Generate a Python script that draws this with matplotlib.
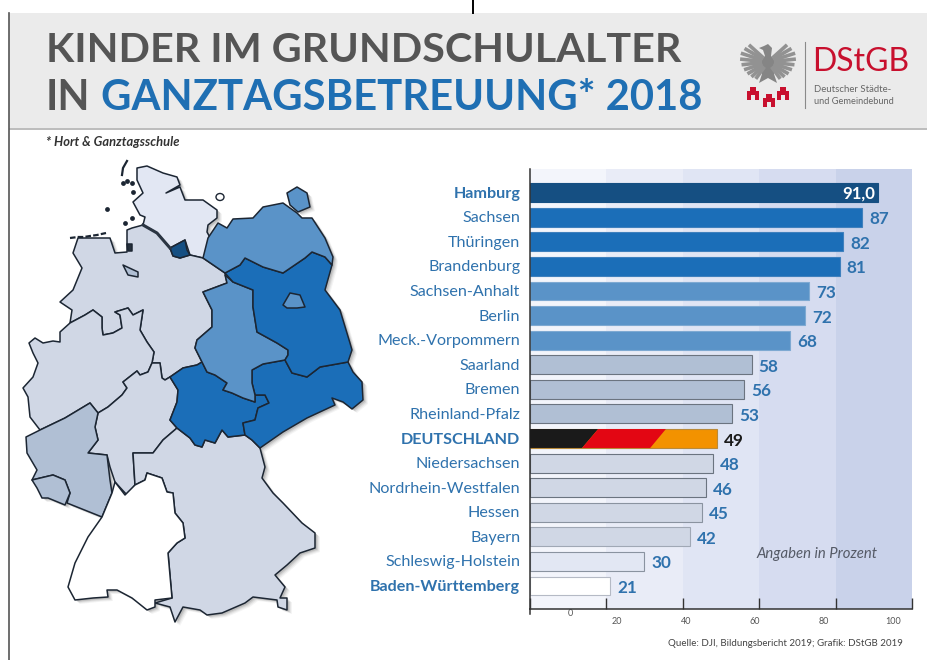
"""
Kinder im Grundschulalter in Ganztagsbetreuung 2018 - bars plus state map
"""

import numpy as np
import matplotlib
matplotlib.use("Agg")
import matplotlib.pyplot as plt
from matplotlib.patches import Polygon, Rectangle, Ellipse

W, H = 927, 660

states = ["Hamburg", "Sachsen", "Thüringen", "Brandenburg", "Sachsen-Anhalt", "Berlin",
          "Meck.-Vorpommern", "Saarland", "Bremen", "Rheinland-Pfalz", "DEUTSCHLAND",
          "Niedersachsen", "Nordrhein-Westfalen", "Hessen", "Bayern", "Schleswig-Holstein",
          "Baden-Württemberg"]
values = [91, 87, 82, 81, 73, 72, 68, 58, 56, 53, 49, 48, 46, 45, 42, 30, 21]
bold_states = ["Hamburg", "DEUTSCHLAND", "Baden-Württemberg"]
tick_values = [0, 20, 40, 60, 80, 100]
tick_labels = ["0", "20", "40", "60", "80", "100"]
tick_label_x = [570, 617, 686, 755, 824, 893]
tick_label_y = [614, 621, 621, 621, 621, 621]

DARK = "#154f82"
STRONG = "#1b6eb8"
MID = "#5a93c8"
SOFT = "#b0bfd4"
PALE = "#d0d7e5"
FAINT = "#e2e7f3"
bar_colors = [DARK, STRONG, STRONG, STRONG, MID, MID, MID, SOFT, SOFT, SOFT, "#f39200",
              PALE, PALE, PALE, PALE, FAINT, "white"]
edge_colors = [DARK, "#3f80bd", "#3f80bd", "#3f80bd", "#7ea9d2", "#7ea9d2", "#7ea9d2", "#6b7480", "#6b7480", "#6b7480",
               "#b98a3a", "#6b7480", "#6b7480", "#8a93a0", "#a0a8b5", "#8a93a0", "#b5bac5"]
band_colors = ["#f3f5fb", "#e9ecf7", "#e0e5f4", "#d6dcf0", "#c9d2ea"]
TEXT_BLUE = "#2f72ad"

# map outlines, traced in picture pixels
schleswig = [(137,168),(147,166),(163,173),(177,177),(180,185),(166,193),(180,187),(185,200),(203,200),(217,210),
             (217,218),(208,225),(207,232),(213,243),(203,258),(190,255),(185,240),(170,248),(157,233),(143,225),
             (145,217),(140,215),(133,202),(143,193),(137,180)]
hamburg = [(170,248),(185,240),(187,250),(190,255),(180,258),(173,256)]
meck = [(203,258),(208,238),(218,223),(227,228),(233,219),(253,218),(263,207),(283,203),(297,213),(302,218),(312,218),
        (325,238),(333,257),(332,265),(325,257),(312,252),(305,258),(283,273),(263,267),(245,258),(240,265),(225,273)]
ruegen = [(287,193),(297,187),(307,193),(310,207),(298,212),(290,205)]
brandenburg = [(225,273),(240,265),(245,258),(263,267),(283,273),(305,258),(312,252),(325,257),(332,265),(325,290),
               (340,310),(350,343),(352,350),(348,362),(320,367),(307,377),(292,373),(285,360),(288,355),(288,350),
               (277,343),(257,332),(253,307),(253,290),(233,282)]
berlin = [(283,305),(290,293),(300,295),(305,307),(297,308),(287,308)]
anhalt = [(225,275),(233,282),(253,290),(253,307),(257,332),(277,343),(288,350),(288,355),(285,360),(263,364),(252,370),
          (252,383),(255,395),(255,402),(243,398),(232,393),(223,390),(227,383),(215,375),(207,372),(202,362),(195,348),
          (197,340),(212,327),(212,310),(203,292),(227,283)]
sachsen = [(252,370),(263,364),(285,360),(292,373),(307,377),(320,367),(348,362),(353,372),(362,382),(363,400),(352,409),
           (343,402),(332,398),(335,405),(307,418),(283,432),(260,448),(252,440),(245,435),(243,423),(255,420),(258,408),
           (269,403),(265,395),(255,395),(252,383)]
thueringen = [(170,377),(183,368),(197,365),(202,362),(207,372),(215,375),(227,383),(223,390),(232,393),(243,398),(255,402),
              (255,395),(265,395),(269,403),(258,408),(255,420),(243,423),(245,435),(228,437),(222,430),(215,443),(205,440),
              (202,447),(195,445),(190,438),(177,428),(170,420),(177,402),(178,390)]
niedersachsen = [(78,238),(110,238),(115,253),(127,252),(127,230),(132,228),(143,225),(157,233),(170,248),(173,256),(180,258),
                 (190,255),(203,258),(225,273),(227,283),(203,292),(212,310),(212,327),(197,340),(195,348),(202,362),(197,365),
                 (183,368),(170,377),(165,380),(162,378),(160,363),(152,363),(154,352),(147,342),(140,330),(143,310),(133,315),
                 (128,308),(115,312),(120,315),(122,328),(113,333),(103,335),(102,328),(102,317),(93,310),(85,315),(70,323),
                 (72,310),(60,302),(73,290),(82,268),(73,253)]
nrw = [(29,343),(35,338),(43,343),(53,341),(60,342),(60,332),(70,323),(85,315),(93,310),(102,317),(102,328),(103,335),
       (113,333),(122,328),(120,315),(115,312),(128,308),(133,315),(143,310),(140,330),(147,342),(154,352),(152,363),
       (148,372),(140,375),(137,371),(123,382),(127,388),(122,395),(108,407),(98,413),(90,403),(65,418),(40,430),
       (30,417),(28,397),(23,388),(33,377),(38,363),(33,353)]
hessen = [(152,363),(160,363),(162,378),(165,380),(170,377),(178,390),(177,402),(170,420),(177,428),(163,440),(153,453),
          (133,453),(135,485),(127,495),(115,482),(110,467),(107,455),(88,453),(98,440),(95,427),(98,413),(108,407),
          (122,395),(127,388),(123,382),(137,371),(140,375),(148,372)]
rheinland = [(40,430),(65,418),(90,403),(98,413),(95,427),(98,440),(88,453),(107,455),(110,480),(112,493),(102,517),
             (67,503),(70,493),(65,480),(53,475),(32,480),(37,470),(27,453),(26,437)]
saarland = [(32,480),(53,475),(65,480),(70,493),(65,505),(48,498),(42,498),(37,488)]
baden = [(102,517),(112,493),(115,482),(125,495),(135,485),(145,480),(147,473),(162,478),(167,492),(173,493),(175,513),
         (183,523),(185,538),(177,543),(168,553),(172,598),(155,600),(155,607),(147,610),(132,598),(117,590),(107,590),
         (108,597),(93,598),(75,600),(68,587),(75,563),(88,537)]
bayern = [(133,453),(153,453),(163,440),(177,428),(190,438),(195,445),(202,447),(205,440),(215,443),(222,430),(228,437),
          (245,435),(252,440),(260,448),(265,467),(262,478),(273,493),(283,503),(302,523),(315,533),(315,548),(300,553),
          (287,565),(275,575),(285,587),(280,598),(287,598),(287,610),(278,607),(277,600),(253,597),(245,603),(222,613),
          (207,615),(200,610),(183,607),(175,622),(170,607),(155,603),(172,598),(168,553),(177,543),(185,538),(183,523),
          (175,513),(173,493),(167,492),(162,478),(147,473),(145,480),(135,485)]
bremen = [(123,265),(138,272),(138,277),(128,275)]
bremerhaven = [(127,244),(132,244),(132,251),(128,251)]
map_shapes = [(schleswig, FAINT), (niedersachsen, PALE), (nrw, PALE), (hessen, PALE), (rheinland, SOFT),
              (saarland, SOFT), (bayern, PALE), (baden, "white"), (thueringen, STRONG), (sachsen, STRONG),
              (anhalt, MID), (brandenburg, STRONG), (berlin, MID), (meck, MID), (ruegen, MID),
              (hamburg, DARK), (bremen, SOFT), (bremerhaven, "#26303c")]
frisian_east = [(70,238),(78,237),(84,237),(90,236),(97,235),(106,233)]
frisian_north = [(123,183),(127,181),(132,183),(133,192),(107,209),(125,223),(132,218)]
sylt = [(127,161),(123,168),(122,175)]
elbe = [(143,225),(157,233),(170,248)]
towers_x = [753.5, 769, 783]
towers_base = [100, 107, 100]
wing_angles = [-42, -30, -18, -6, 6, 18, 30, 42, 54]
eagle_body = [(768,44),(772,48),(771,56),(776,62),(774,74),(777,83),(768,78),(759,83),(762,74),(760,62),(765,56),(763,50),(759,48),(764,46)]

fig = plt.figure(figsize=(W / 100, H / 100), dpi=100, facecolor="white")
plt.rcParams["font.family"] = ["Lato", "DejaVu Sans"]

# overlay in picture pixels for the header, map and loose texts
bg = fig.add_axes([0, 0, 1, 1])
bg.set_xlim(0, W)
bg.set_ylim(H, 0)
bg.axis("off")

bg.add_patch(Rectangle((9, 13), W - 9, 115, color="#ebebeb", lw=0))
bg.add_patch(Rectangle((9, 128), W - 9, 2, color="#bdbdbd", lw=0))
bg.plot([9.5, 9.5], [13, 660], color="#555555", lw=1.2)
bg.plot([473, 473], [0, 13], color="black", lw=1.4)

bg.text(46, 50, "KINDER IM GRUNDSCHULALTER", fontsize=29.7, fontweight="bold", color="#555555", va="center")
bg.text(46, 98, "IN", fontsize=30, fontweight="bold", color="#555555", va="center")
bg.text(101, 98, "GANZTAGSBETREUUNG* 2018", fontsize=30.1, fontweight="bold", color="#1f6fb3", va="center")
bg.text(46, 142, "* Hort & Ganztagsschule", fontsize=9.3, fontweight="bold", style="italic", color="#333333", va="center")

# logo
for ang in wing_angles:
    for side in (-1, 1):
        dx, dy = np.cos(np.radians(ang)), np.sin(np.radians(ang))
        reach = 29 - abs(ang + 14) * 0.12
        bg.plot([768 + side * 6 * dx, 768 + side * reach * dx], [62 + 6 * dy, 62 + reach * dy],
                color="#929292", lw=2.6, solid_capstyle="butt")
bg.add_patch(Polygon(eagle_body, color="#858585", lw=0))
for tx, base in zip(towers_x, towers_base):
    bg.add_patch(Polygon([(tx - 6, base), (tx - 6, base - 9), (tx - 3, base - 9), (tx - 3, base - 13), (tx + 3, base - 13),
                          (tx + 3, base - 9), (tx + 6, base - 9), (tx + 6, base), (tx + 2, base), (tx + 2, base - 5),
                          (tx - 2, base - 5), (tx - 2, base)], color="#c8102e", lw=0))
bg.plot([805, 805], [42, 108], color="#8a8a8a", lw=0.8)
bg.text(812, 62, "DStGB", fontsize=23, color="#c8102e", va="center")
bg.text(814, 90, "Deutscher Städte-", fontsize=6.9, color="#666666", va="center")
bg.text(814, 101, "und Gemeindebund", fontsize=6.7, color="#666666", va="center")

# soft drop shadow, then the states
for off, alpha in ((5, 0.05), (4, 0.07), (3, 0.1), (2, 0.14)):
    for pts, _ in map_shapes:
        bg.add_patch(Polygon([(x + off, y + off * 0.8) for x, y in pts], color="#333333", alpha=alpha, lw=0))
for pts, col in map_shapes:
    bg.add_patch(Polygon(pts, facecolor=col, edgecolor="#1c2633", lw=1.1, joinstyle="round"))
bg.plot(*zip(*frisian_east), color="#1c2633", lw=1.6, linestyle=(0, (2.5, 1)))
bg.plot(*zip(*sylt), color="#1c2633", lw=1.6)
bg.plot(*zip(*elbe), color="#2b3542", lw=2.2)
bg.scatter(*zip(*frisian_north), s=12, color="#1c2633", lw=0)
bg.add_patch(Ellipse((220, 197), 8, 7, facecolor="white", edgecolor="#1c2633", lw=1))

# bar chart
x0, x100 = 529.7, 912.2
top_px, bottom_px = 169, 609
first_px, pitch = 192.7, 24.58
bg.plot([x0, x0], [bottom_px, bottom_px + 5], color="#333333", lw=1.1)

ax = fig.add_axes([x0 / W, 1 - bottom_px / H, (x100 - x0) / W, (bottom_px - top_px) / H])
ax.patch.set_alpha(0)
ax.set_xlim(0, 100)
ax.set_ylim((bottom_px - first_px) / pitch, (top_px - first_px) / pitch)

for left, col in zip(tick_values[:-1], band_colors):
    ax.axvspan(left, left + 20, color=col, lw=0, zorder=0)

bar_h = 0.77
positions = list(range(len(states)))
ax.barh(positions, values, height=bar_h, color=bar_colors, edgecolor=edge_colors, linewidth=0.8, zorder=2)

# flag colours on the national bar, with slanted joints
k = states.index("DEUTSCHLAND")
de_top, de_bot = k - bar_h / 2, k + bar_h / 2
ax.add_patch(Polygon([(0, de_top), (17.9, de_top), (13.7, de_bot), (0, de_bot)], color="#1a1a1a", lw=0, zorder=3))
ax.add_patch(Polygon([(17.9, de_top), (35.6, de_top), (31.5, de_bot), (13.7, de_bot)], color="#e30613", lw=0, zorder=3))

for pos, name, val in zip(positions, states, values):
    is_bold = name in bold_states
    ax.annotate(name, (0, pos), xytext=(-9.5, -1), textcoords="offset pixels", ha="right", va="center",
                fontsize=11.6, color=TEXT_BLUE, fontweight="bold" if is_bold else "normal",
                annotation_clip=False)
    if name == "Hamburg":
        ax.annotate("91,0", (val, pos), xytext=(-3, -1), textcoords="offset pixels", ha="right", va="center",
                    fontsize=12, fontweight="bold", color="white", zorder=4)
    else:
        col = "#1a1a1a" if name == "DEUTSCHLAND" else TEXT_BLUE
        ax.annotate(str(val), (val, pos), xytext=(7, -2), textcoords="offset pixels", ha="left", va="center",
                    fontsize=12.3, fontweight="bold", color=col, zorder=4)

for side in ("top", "right"):
    ax.spines[side].set_visible(False)
ax.spines["left"].set_color("#333333")
ax.spines["bottom"].set_color("#333333")
ax.spines["left"].set_linewidth(1.1)
ax.spines["bottom"].set_linewidth(1.1)
ax.set_yticks([])
ax.set_xticks(tick_values)
ax.set_xticklabels([])
ax.tick_params(axis="x", direction="in", length=8, width=1.0, color="#333333")

for lab, lx, ly in zip(tick_labels, tick_label_x, tick_label_y):
    bg.text(lx, ly, lab, fontsize=6.5, color="#555555", ha="center", va="center")

fig.text(756 / W, 1 - 554 / H, "Angaben in Prozent", fontsize=10.7, style="italic", color="#555a66", va="center")
bg.text(668, 643, "Quelle: DJI, Bildungsbericht 2019; Grafik: DStGB 2019", fontsize=7, color="#444444", va="center")

fig.savefig("out.png", dpi=100)
